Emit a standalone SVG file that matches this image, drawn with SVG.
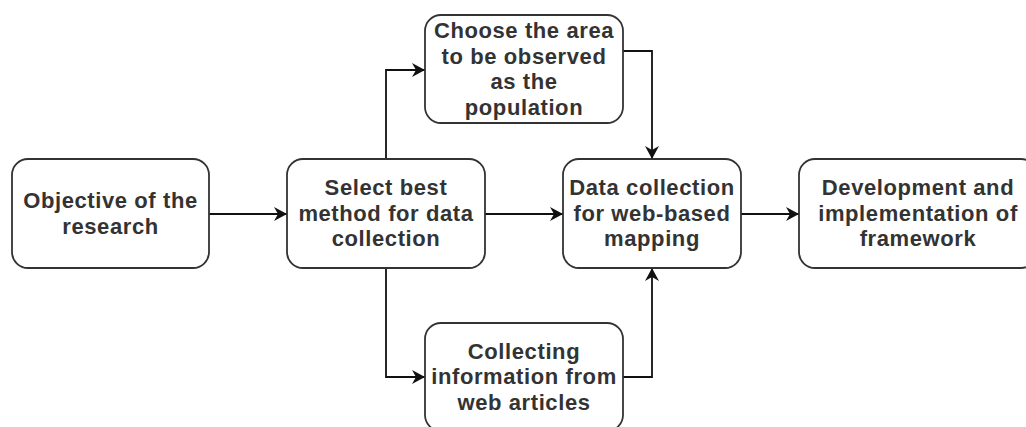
<svg xmlns="http://www.w3.org/2000/svg" width="1026" height="427" viewBox="0 0 1026 427">
  <style>
    .box { fill: #ffffff; stroke: #333333; stroke-width: 1.8; }
    .lbl { font-family: "Liberation Sans", Arial, sans-serif; font-weight: bold; font-size: 22px; letter-spacing: 0.6px; fill: #333333; text-anchor: middle; }
    .edge { fill: none; stroke: #111111; stroke-width: 1.8; marker-end: url(#arrow); }
  </style>
  <defs>
    <marker id="arrow" markerUnits="userSpaceOnUse" markerWidth="14" markerHeight="14" refX="13" refY="7" orient="auto">
      <path d="M0,0 L13,7 L0,14 L4,7 z" fill="#111111"/>
    </marker>
  </defs>
  <rect width="1026" height="427" fill="#ffffff"/>

  <g id="connectors">
    <path class="edge" d="M209,214 H287"/>
    <path class="edge" d="M386,159 V70 H425"/>
    <path class="edge" d="M386,268 V377 H425"/>
    <path class="edge" d="M485,214 H563"/>
    <path class="edge" d="M623,51 H652 V159"/>
    <path class="edge" d="M623,377 H652 V268"/>
    <path class="edge" d="M741,214 H799"/>
  </g>

  <g id="objective">
    <rect class="box" x="12" y="159" width="197" height="109" rx="16"/>
    <text class="lbl"><tspan x="110.5" y="208">Objective of the</tspan><tspan x="110.5" y="233.5">research</tspan></text>
  </g>

  <g id="select">
    <rect class="box" x="287" y="159" width="198" height="109" rx="16"/>
    <text class="lbl"><tspan x="386" y="195">Select best</tspan><tspan x="386" y="220.5">method for data</tspan><tspan x="386" y="246">collection</tspan></text>
  </g>

  <g id="choose">
    <rect class="box" x="425" y="15" width="198" height="108" rx="16"/>
    <text class="lbl"><tspan x="524" y="38">Choose the area</tspan><tspan x="524" y="63.5">to be observed</tspan><tspan x="524" y="89">as the</tspan><tspan x="524" y="114.5">population</tspan></text>
  </g>

  <g id="collecting">
    <rect class="box" x="425" y="323" width="198" height="108" rx="16"/>
    <text class="lbl"><tspan x="524" y="358.5">Collecting</tspan><tspan x="524" y="384">information from</tspan><tspan x="524" y="409.5">web articles</tspan></text>
  </g>

  <g id="datacollection">
    <rect class="box" x="563" y="159" width="178" height="109" rx="16"/>
    <text class="lbl"><tspan x="652" y="195">Data collection</tspan><tspan x="652" y="220.5">for web-based</tspan><tspan x="652" y="246">mapping</tspan></text>
  </g>

  <g id="development">
    <rect class="box" x="799" y="159" width="238" height="109" rx="16"/>
    <text class="lbl"><tspan x="918" y="195">Development and</tspan><tspan x="918" y="220.5">implementation of</tspan><tspan x="918" y="246">framework</tspan></text>
  </g>
</svg>
